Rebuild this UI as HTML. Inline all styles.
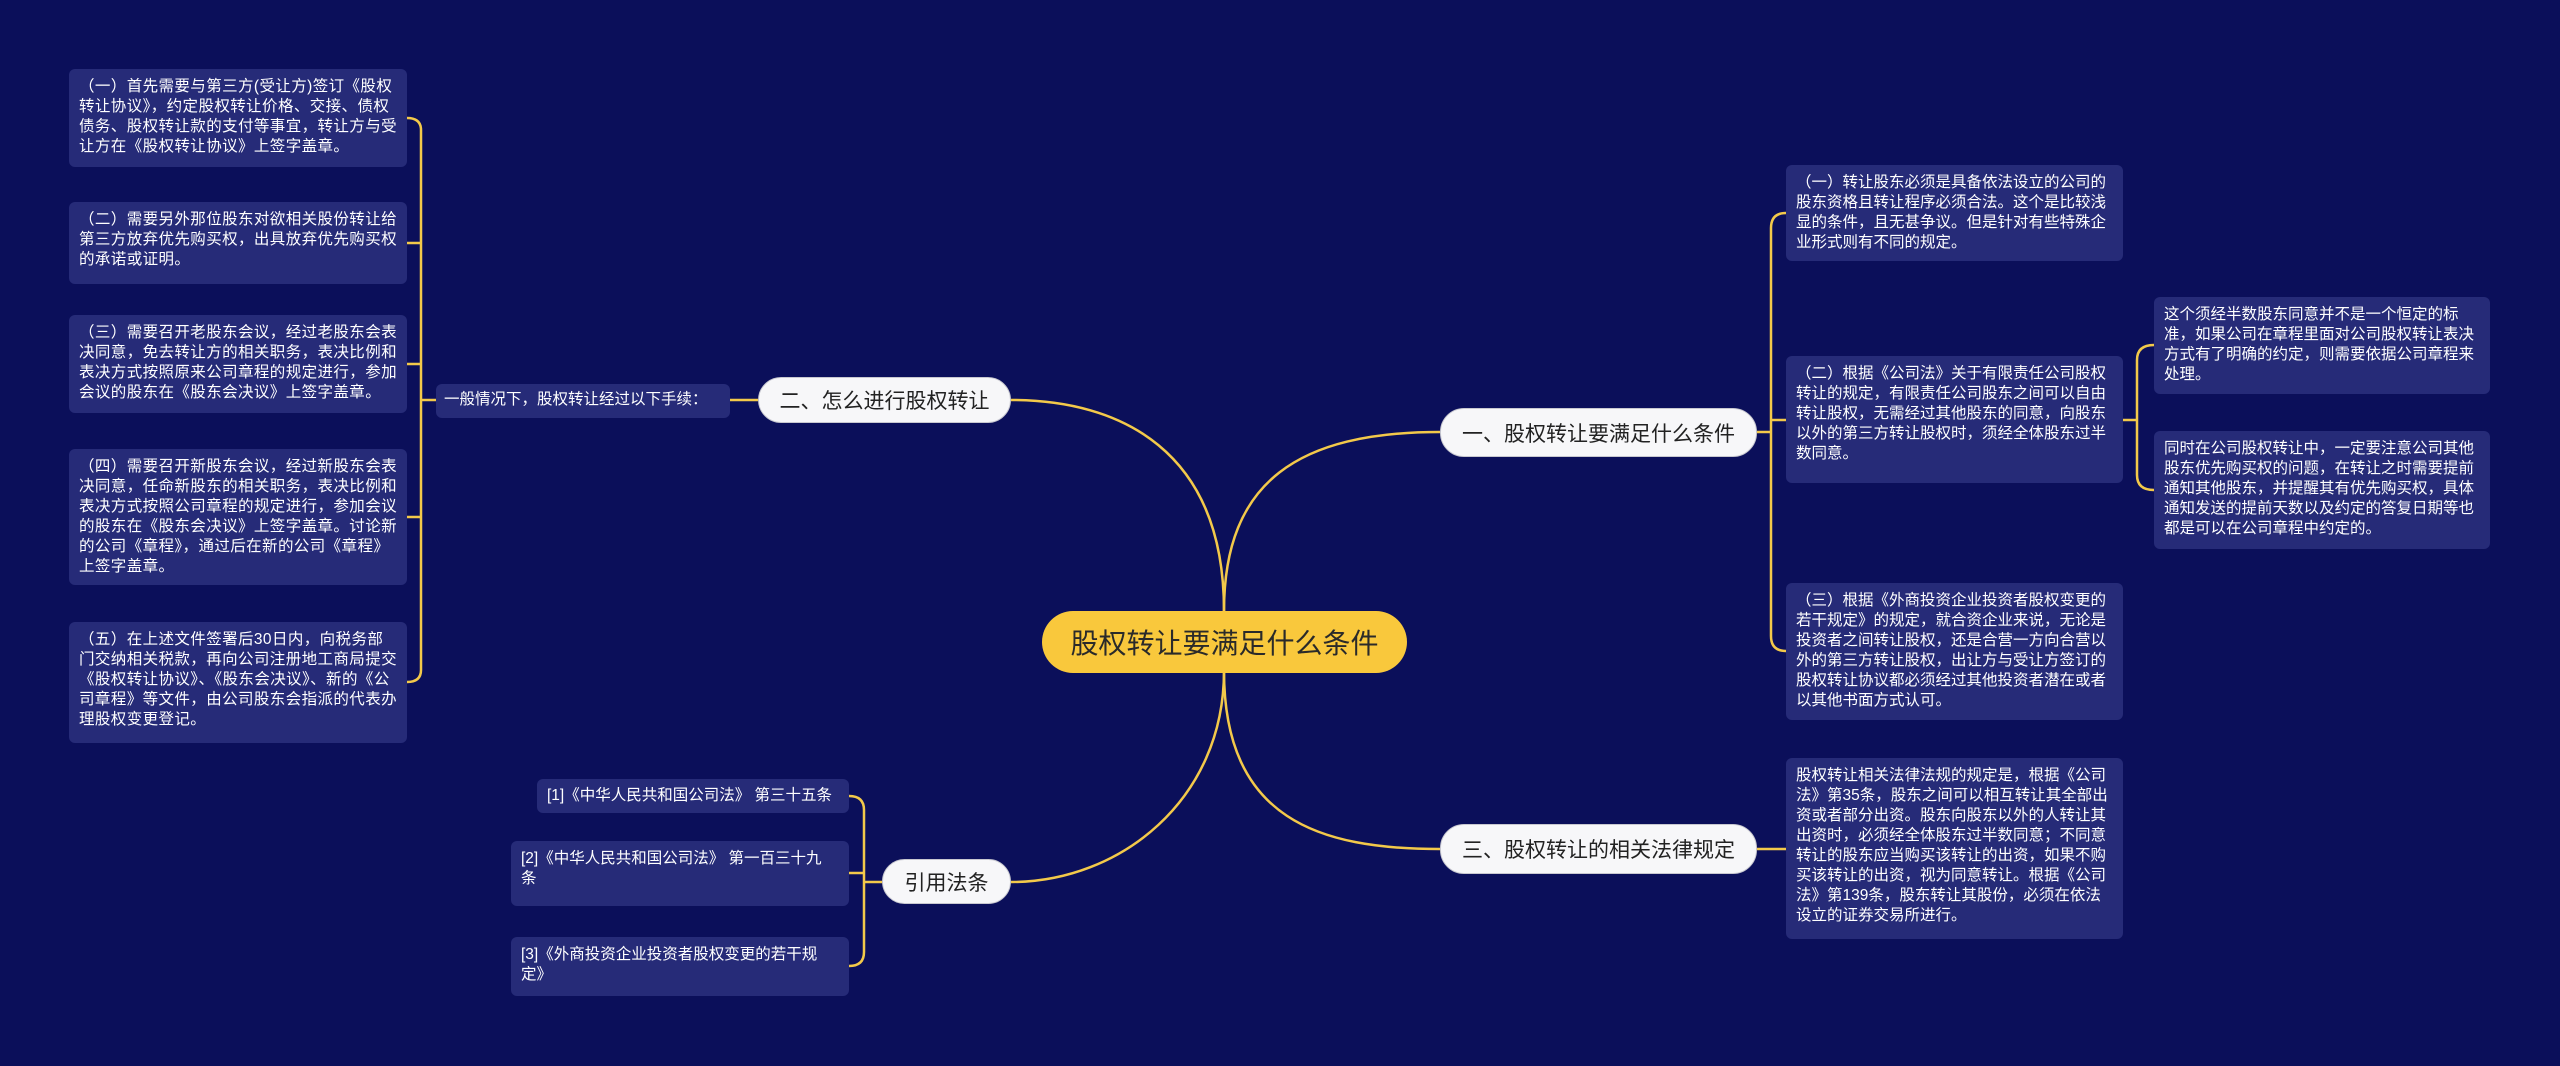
<!DOCTYPE html>
<html><head><meta charset="utf-8">
<style>
body{margin:0;width:2560px;height:1066px;background:#0b0f5a;overflow:hidden;position:relative;font-family:"Liberation Sans","Noto Sans CJK SC",sans-serif;}
.b{position:absolute;background:#262b78;border-radius:6px;color:#fff;font-size:15.5px;line-height:20px;padding:8px 10px;box-sizing:border-box;}
.l{letter-spacing:0.4px;}
.p{position:absolute;background:#f7f7f9;border-radius:24px;color:#222;font-size:21px;display:flex;align-items:center;justify-content:center;box-sizing:border-box;border:1px solid #c8c8d0;}
svg{position:absolute;left:0;top:0;}
</style></head><body>
<svg width="2560" height="1066" fill="none" stroke="#f3c94a" stroke-width="2.5">
<path d="M1224 611 C1224 450 1120 400 1011 400"/>
<path d="M1224 611 C1224 480 1300 432 1440 432"/>
<path d="M1224 671 C1224 820 1320 849 1440 849"/>
<path d="M1224 671 C1224 800 1120 882 1011 882"/>
<path d="M758 400 H730"/>
<path d="M436 400 H421"/>
<path d="M407 118 Q421 118 421 130 V670 Q421 682 407 682"/>
<path d="M407 243 H421 M407 364 H421 M407 517 H421"/>
<path d="M1757 432 H1771"/>
<path d="M1786 213 Q1771 213 1771 228 V636 Q1771 651 1786 651"/>
<path d="M1771 420 H1786"/>
<path d="M1757 849 H1786"/>
<path d="M2123 420 H2137"/>
<path d="M2154 345 Q2137 345 2137 360 V475 Q2137 490 2154 490"/>
<path d="M882 882 H864"/>
<path d="M849 796 Q864 796 864 810 V952 Q864 966 849 966"/>
<path d="M849 873 H864"/>
</svg>

<div class="p" style="left:1042px;top:611px;width:365px;height:62px;background:#f9c83c;border:none;border-radius:32px;font-size:28px;color:#2a2a2a;">股权转让要满足什么条件</div>
<div class="p" style="left:1440px;top:408px;width:317px;height:49px;">一、股权转让要满足什么条件</div>
<div class="p" style="left:1440px;top:824px;width:317px;height:50px;">三、股权转让的相关法律规定</div>
<div class="p" style="left:758px;top:377px;width:253px;height:46px;">二、怎么进行股权转让</div>
<div class="p" style="left:882px;top:859px;width:129px;height:45px;">引用法条</div>

<div class="b" style="left:436px;top:384px;width:294px;height:34px;padding:6px 8px;">一般情况下，股权转让经过以下手续：</div>

<div class="b l" style="left:69px;top:69px;width:338px;height:98px;">（一）首先需要与第三方(受让方)签订《股权转让协议》，约定股权转让价格、交接、债权债务、股权转让款的支付等事宜，转让方与受让方在《股权转让协议》上签字盖章。</div>
<div class="b l" style="left:69px;top:202px;width:338px;height:82px;">（二）需要另外那位股东对欲相关股份转让给第三方放弃优先购买权，出具放弃优先购买权的承诺或证明。</div>
<div class="b l" style="left:69px;top:315px;width:338px;height:98px;">（三）需要召开老股东会议，经过老股东会表决同意，免去转让方的相关职务，表决比例和表决方式按照原来公司章程的规定进行，参加会议的股东在《股东会决议》上签字盖章。</div>
<div class="b l" style="left:69px;top:449px;width:338px;height:136px;">（四）需要召开新股东会议，经过新股东会表决同意，任命新股东的相关职务，表决比例和表决方式按照公司章程的规定进行，参加会议的股东在《股东会决议》上签字盖章。讨论新的公司《章程》，通过后在新的公司《章程》上签字盖章。</div>
<div class="b l" style="left:69px;top:622px;width:338px;height:121px;">（五）在上述文件签署后30日内，向税务部门交纳相关税款，再向公司注册地工商局提交《股权转让协议》、《股东会决议》、新的《公司章程》等文件，由公司股东会指派的代表办理股权变更登记。</div>

<div class="b" style="left:1786px;top:165px;width:337px;height:96px;">（一）转让股东必须是具备依法设立的公司的股东资格且转让程序必须合法。这个是比较浅显的条件，且无甚争议。但是针对有些特殊企业形式则有不同的规定。</div>
<div class="b" style="left:1786px;top:356px;width:337px;height:127px;">（二）根据《公司法》关于有限责任公司股权转让的规定，有限责任公司股东之间可以自由转让股权，无需经过其他股东的同意，向股东以外的第三方转让股权时，须经全体股东过半数同意。</div>
<div class="b" style="left:1786px;top:583px;width:337px;height:137px;">（三）根据《外商投资企业投资者股权变更的若干规定》的规定，就合资企业来说，无论是投资者之间转让股权，还是合营一方向合营以外的第三方转让股权，出让方与受让方签订的股权转让协议都必须经过其他投资者潜在或者以其他书面方式认可。</div>
<div class="b" style="left:1786px;top:758px;width:337px;height:181px;">股权转让相关法律法规的规定是，根据《公司法》第35条，股东之间可以相互转让其全部出资或者部分出资。股东向股东以外的人转让其出资时，必须经全体股东过半数同意；不同意转让的股东应当购买该转让的出资，如果不购买该转让的出资，视为同意转让。根据《公司法》第139条，股东转让其股份，必须在依法设立的证券交易所进行。</div>

<div class="b" style="left:2154px;top:297px;width:336px;height:97px;">这个须经半数股东同意并不是一个恒定的标准，如果公司在章程里面对公司股权转让表决方式有了明确的约定，则需要依据公司章程来处理。</div>
<div class="b" style="left:2154px;top:431px;width:336px;height:118px;">同时在公司股权转让中，一定要注意公司其他股东优先购买权的问题，在转让之时需要提前通知其他股东，并提醒其有优先购买权，具体通知发送的提前天数以及约定的答复日期等也都是可以在公司章程中约定的。</div>

<div class="b" style="left:537px;top:779px;width:312px;height:34px;padding:7px 10px;white-space:nowrap;">[1]《中华人民共和国公司法》 第三十五条</div>
<div class="b" style="left:511px;top:841px;width:338px;height:65px;">[2]《中华人民共和国公司法》 第一百三十九<br>条</div>
<div class="b" style="left:511px;top:937px;width:338px;height:59px;">[3]《外商投资企业投资者股权变更的若干规定》</div>
</body></html>
